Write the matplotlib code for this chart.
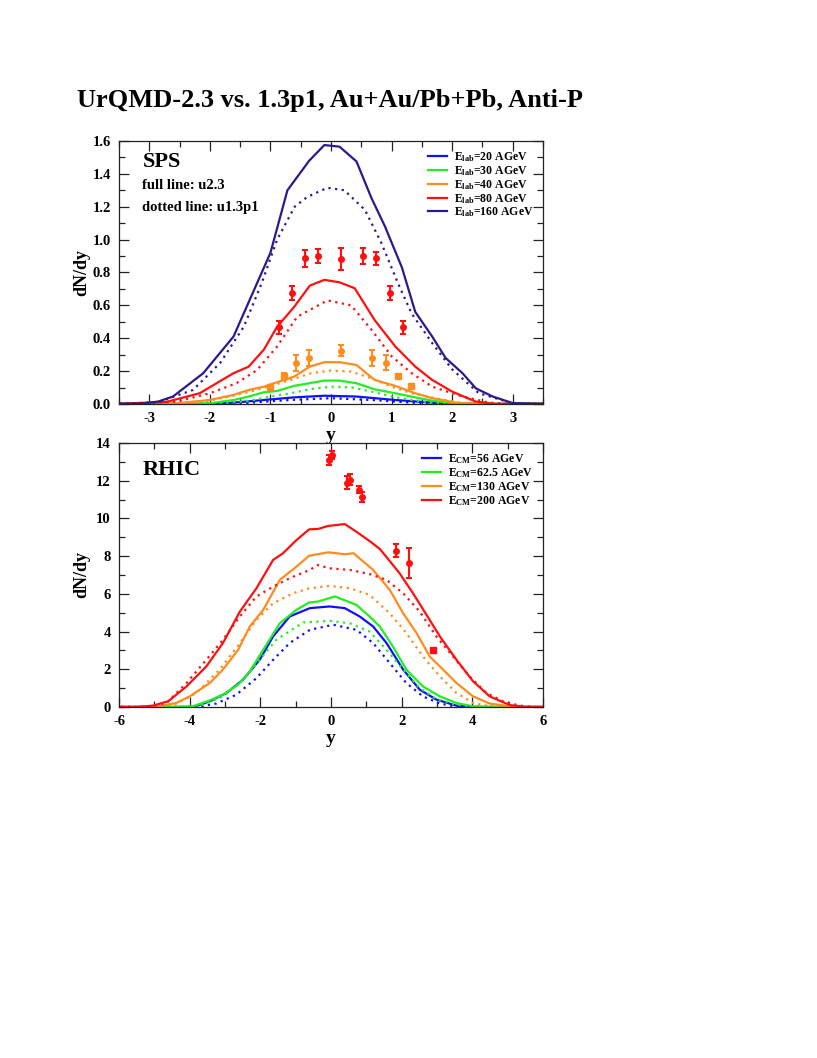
"""Anti-proton rapidity spectra, UrQMD-2.3 vs 1.3p1 (SPS and RHIC)."""

import matplotlib

matplotlib.use("Agg")
import matplotlib.pyplot as plt
from matplotlib.ticker import MultipleLocator, FormatStrFormatter

plt.rcParams["font.family"] = ["Liberation Serif", "DejaVu Serif"]
plt.rcParams["font.weight"] = "bold"
plt.rcParams["mathtext.fontset"] = "custom"
plt.rcParams["mathtext.rm"] = "Liberation Serif:bold"
plt.rcParams["mathtext.it"] = "Liberation Serif:bold"
plt.rcParams["mathtext.bf"] = "Liberation Serif:bold"
plt.rcParams["axes.unicode_minus"] = False

# ---- SPS (top panel): (y, dN/dy) ----
sps_labels = ["E$_{\\rm lab}$=20 AGeV", "E$_{\\rm lab}$=30 AGeV", "E$_{\\rm lab}$=40 AGeV",
              "E$_{\\rm lab}$=80 AGeV", "E$_{\\rm lab}$=160 AGeV"]
sps20_full = [(-3.6, 0), (-2.0, 0), (-1.61, 0.008), (-1.11, 0.024), (-0.61, 0.04), (-0.11, 0.05),
              (0.42, 0.045), (1.06, 0.024), (1.67, 0.008), (2.06, 0), (3.6, 0)]
sps20_dot = [(-3.6, 0), (-1.8, 0), (-1.33, 0.008), (-0.67, 0.024), (0.0, 0.035), (0.67, 0.024),
             (1.33, 0.008), (1.8, 0), (3.6, 0)]
sps30_full = [(-3.6, 0), (-2.0, 0.004), (-1.61, 0.024), (-1.36, 0.045), (-1.11, 0.071), (-0.89, 0.079),
              (-0.61, 0.11), (-0.11, 0.142), (0.14, 0.142), (0.42, 0.126), (0.72, 0.089), (1.06, 0.065),
              (1.39, 0.04), (1.67, 0.02), (2.06, 0.002), (3.6, 0)]
sps30_dot = [(-3.6, 0), (-2.0, 0.002), (-1.67, 0.008), (-1.33, 0.02), (-1.0, 0.045), (-0.67, 0.065),
             (-0.33, 0.091), (0.0, 0.105), (0.33, 0.101), (0.67, 0.075), (1.0, 0.045), (1.33, 0.024),
             (1.67, 0.008), (2.1, 0), (3.6, 0)]
sps40_full = [(-3.6, 0), (-2.56, 0.004), (-2.0, 0.024), (-1.61, 0.055), (-1.36, 0.085), (-1.11, 0.105),
              (-0.89, 0.132), (-0.61, 0.166), (-0.35, 0.227), (-0.11, 0.254), (0.14, 0.254), (0.42, 0.237),
              (0.72, 0.146), (1.06, 0.11), (1.39, 0.065), (1.67, 0.035), (2.06, 0.008), (2.5, 0), (3.6, 0)]
sps40_dot = [(-3.6, 0), (-2.11, 0.014), (-1.67, 0.045), (-1.33, 0.075), (-1.0, 0.11), (-0.67, 0.146),
             (-0.33, 0.187), (0.0, 0.203), (0.33, 0.197), (0.67, 0.156), (1.0, 0.105), (1.33, 0.065),
             (1.67, 0.039), (2.11, 0.008), (2.6, 0), (3.6, 0)]
sps80_full = [(-3.6, 0), (-2.72, 0.012), (-2.17, 0.065), (-1.61, 0.187), (-1.36, 0.227), (-1.11, 0.33),
              (-0.89, 0.47), (-0.61, 0.59), (-0.35, 0.72), (-0.11, 0.755), (0.14, 0.74), (0.39, 0.704),
              (0.72, 0.51), (1.06, 0.35), (1.39, 0.227), (1.67, 0.146), (2.0, 0.075), (2.39, 0.014),
              (2.7, 0), (3.6, 0)]
sps80_dot = [(-3.6, 0), (-2.56, 0.014), (-2.0, 0.065), (-1.56, 0.126), (-1.22, 0.207), (-0.89, 0.35),
             (-0.56, 0.53), (-0.06, 0.63), (0.33, 0.60), (0.67, 0.45), (1.0, 0.29), (1.33, 0.187),
             (1.67, 0.105), (2.17, 0.045), (2.61, 0.008), (3.0, 0), (3.6, 0)]
sps160_full = [(-3.6, 0), (-3.1, 0.003), (-2.85, 0.015), (-2.61, 0.045), (-2.11, 0.187), (-1.61, 0.41),
               (-1.0, 0.92), (-0.72, 1.30), (-0.36, 1.48), (-0.11, 1.575), (0.14, 1.565), (0.42, 1.475),
               (0.67, 1.25), (0.89, 1.08), (1.17, 0.83), (1.39, 0.56), (1.67, 0.41), (1.89, 0.28),
               (2.17, 0.187), (2.39, 0.095), (2.67, 0.045), (3.0, 0.005), (3.6, 0)]
sps160_dot = [(-3.6, 0), (-3.1, 0.004), (-2.83, 0.014), (-2.28, 0.085), (-1.83, 0.25), (-1.44, 0.47),
              (-1.15, 0.73), (-0.89, 1.0), (-0.6, 1.2), (-0.39, 1.26), (-0.06, 1.315), (0.22, 1.30),
              (0.56, 1.18), (0.83, 0.98), (1.11, 0.73), (1.33, 0.55), (1.67, 0.37), (2.0, 0.21),
              (2.44, 0.065), (3.0, 0.004), (3.6, 0)]

# NA49 data points (y, dN/dy, error)
sps80_data = [(-0.86, 0.467, 0.04), (-0.64, 0.675, 0.043), (-0.43, 0.886, 0.05), (-0.21, 0.90, 0.043),
              (0.16, 0.88, 0.068), (0.53, 0.90, 0.047), (0.75, 0.886, 0.04), (0.97, 0.675, 0.043),
              (1.18, 0.467, 0.04)]
sps40_data = [(-0.58, 0.25, 0.05), (-0.36, 0.28, 0.048), (0.16, 0.325, 0.033), (0.68, 0.28, 0.048),
              (0.90, 0.25, 0.046)]
sps40_sq = [(-1.0, 0.105, 0.0), (-0.78, 0.168, 0.02), (1.11, 0.168, 0.0), (1.32, 0.107, 0.0)]

# ---- RHIC (bottom panel) ----
rhic_labels = ["E$_{\\rm CM}$=56 AGeV", "E$_{\\rm CM}$=62.5 AGeV", "E$_{\\rm CM}$=130 AGeV",
               "E$_{\\rm CM}$=200 AGeV"]
rhic56_full = [(-6.5, 0), (-3.9, 0), (-3.43, 0.3), (-2.96, 0.74), (-2.49, 1.45), (-2.02, 2.5),
               (-1.64, 3.74), (-1.17, 4.8), (-0.6, 5.24), (-0.04, 5.33), (0.39, 5.24), (0.81, 4.8),
               (1.19, 4.27), (1.57, 3.39), (2.04, 1.98), (2.51, 0.92), (2.98, 0.39), (3.55, 0.07),
               (4.0, 0), (6.5, 0)]
rhic56_dot = [(-6.5, 0), (-3.8, 0), (-3.25, 0.18), (-2.68, 0.65), (-2.11, 1.53), (-1.64, 2.5),
              (-1.17, 3.39), (-0.6, 4.09), (0.06, 4.36), (0.72, 4.09), (1.19, 3.39), (1.66, 2.33),
              (2.13, 1.27), (2.6, 0.56), (3.08, 0.18), (3.6, 0), (6.5, 0)]
rhic62_full = [(-6.5, 0), (-4.4, 0), (-3.91, 0.035), (-3.43, 0.35), (-3.06, 0.65), (-2.63, 1.18),
               (-2.3, 1.89), (-1.92, 3.03), (-1.45, 4.44), (-0.98, 5.15), (-0.62, 5.54), (-0.37, 5.59),
               (0.11, 5.86), (0.72, 5.41), (1.09, 4.8), (1.38, 4.27), (1.75, 3.21), (2.13, 1.98),
               (2.6, 1.09), (3.08, 0.56), (3.55, 0.21), (4.02, 0.035), (4.5, 0), (6.5, 0)]
rhic62_dot = [(-6.5, 0), (-4.2, 0), (-3.62, 0.12), (-3.06, 0.56), (-2.49, 1.45), (-2.02, 2.5),
              (-1.55, 3.56), (-0.79, 4.48), (-0.04, 4.57), (0.53, 4.44), (1.09, 4.0), (1.57, 3.03),
              (2.04, 1.98), (2.51, 1.0), (2.98, 0.42), (3.55, 0.12), (4.1, 0), (6.5, 0)]
rhic130_full = [(-6.5, 0), (-5.3, 0), (-4.85, 0.035), (-4.38, 0.21), (-4.0, 0.56), (-3.43, 1.27),
                (-3.06, 1.98), (-2.63, 3.03), (-2.3, 4.27), (-1.92, 5.15), (-1.45, 6.74), (-0.98, 7.44),
                (-0.62, 8.02), (-0.08, 8.2), (0.39, 8.1), (0.64, 8.15), (1.19, 7.27), (1.66, 6.21),
                (2.04, 4.97), (2.42, 3.92), (2.79, 2.68), (3.17, 1.98), (3.55, 1.27), (4.02, 0.56),
                (4.49, 0.18), (5.06, 0.035), (5.5, 0), (6.5, 0)]
rhic130_dot = [(-6.5, 0), (-4.9, 0), (-4.38, 0.18), (-3.81, 0.74), (-3.15, 1.98), (-2.58, 3.39),
               (-2.11, 4.62), (-1.64, 5.5), (-1.08, 6.03), (-0.6, 6.3), (-0.04, 6.42), (0.53, 6.3),
               (1.09, 5.94), (1.66, 4.97), (2.13, 3.92), (2.6, 2.68), (3.08, 1.62), (3.55, 0.74),
               (4.02, 0.21), (4.5, 0.03), (5.0, 0), (6.5, 0)]
rhic200_full = [(-6.5, 0), (-5.5, 0), (-5.04, 0.07), (-4.61, 0.3), (-4.09, 1.09), (-3.53, 2.15),
                (-3.06, 3.39), (-2.58, 5.06), (-2.11, 6.3), (-1.64, 7.8), (-1.36, 8.15), (-0.98, 8.85),
                (-0.62, 9.42), (-0.37, 9.44), (-0.08, 9.6), (0.39, 9.7), (0.72, 9.29), (1.09, 8.8),
                (1.38, 8.38), (1.66, 7.74), (1.94, 7.09), (2.32, 6.03), (2.7, 4.89), (3.08, 3.74),
                (3.55, 2.5), (4.02, 1.36), (4.49, 0.56), (5.06, 0.1), (5.5, 0), (6.5, 0)]
rhic200_dot = [(-6.5, 0), (-5.2, 0), (-4.66, 0.2), (-4.09, 1.27), (-3.53, 2.5), (-3.06, 3.56),
               (-2.58, 4.8), (-2.11, 5.86), (-1.64, 6.38), (-1.17, 6.83), (-0.6, 7.27), (-0.37, 7.53),
               (-0.04, 7.35), (0.53, 7.27), (1.09, 7.05), (1.57, 6.74), (2.04, 6.03), (2.51, 5.06),
               (2.98, 3.74), (3.45, 2.68), (3.92, 1.62), (4.4, 0.74), (4.87, 0.3), (5.34, 0.07),
               (5.8, 0), (6.5, 0)]

# BRAHMS data (y, dN/dy, error)
rhic200_data = [(-0.07, 13.09, 0.26), (0.04, 13.35, 0.2), (0.45, 11.9, 0.35), (0.53, 12.06, 0.3),
                (0.79, 11.53, 0.2), (0.89, 11.15, 0.26), (1.83, 8.29, 0.35), (2.2, 7.65, 0.8)]
rhic200_sq = [(2.89, 3.03, 0.0)]

colors_sps = ["#1010ff", "#22ee22", "#ff8c1e", "#ff1010", "#2c1a8c"]
colors_rhic = ["#1010ff", "#22ee22", "#ff8c1e", "#ff1010"]


def _xy(pairs):
    return [p[0] for p in pairs], [p[1] for p in pairs]


def _draw_curves(ax, full, dot, colors, labels):
    for f, d, c, lab in zip(full, dot, colors, labels):
        x, y = _xy(f)
        ax.plot(x, y, color=c, lw=1.6, label=lab)
        x, y = _xy(d)
        ax.plot(x, y, color=c, lw=1.6, ls=(0, (1, 2)))


def _draw_points(ax, pts, color, marker, ms):
    x = [p[0] for p in pts]
    y = [p[1] for p in pts]
    e = [p[2] for p in pts]
    ax.errorbar(x, y, yerr=e, fmt=marker, color=color, ms=ms, elinewidth=1.5,
                capsize=2.5, capthick=1.5, zorder=5)


def _style(ax):
    ax.tick_params(which="both", direction="in", top=True, right=True, labelsize=10.5,
                   pad=6, colors="#222222", labelcolor="black")
    ax.tick_params(which="major", length=7, width=0.9)
    ax.tick_params(which="minor", length=4, width=0.9)
    for s in ax.spines.values():
        s.set_linewidth(0.9)
        s.set_color("#222222")
    for lab in ax.get_xticklabels() + ax.get_yticklabels():
        lab.set_fontweight("bold")


def _legend(ax):
    ax.legend(loc="upper right", frameon=False, fontsize=8.5, handlelength=1.6,
              handletextpad=0.6, labelspacing=0.0, borderaxespad=0.5, borderpad=0.3)


fig = plt.figure(figsize=(8.17, 10.58), dpi=100)
fig.text(0.094, 0.899, "UrQMD-2.3 vs. 1.3p1, Au+Au/Pb+Pb, Anti-P", fontsize=19,
         fontweight="bold", ha="left", va="baseline")

# top panel
ax1 = fig.add_axes([0.1457, 0.6182, 0.519, 0.2486])
_draw_curves(ax1, [sps20_full, sps30_full, sps40_full, sps80_full, sps160_full],
             [sps20_dot, sps30_dot, sps40_dot, sps80_dot, sps160_dot], colors_sps, sps_labels)
_draw_points(ax1, sps80_data, "#ff1010", "o", 4)
_draw_points(ax1, sps40_data, "#ff8c1e", "o", 4)
_draw_points(ax1, sps40_sq, "#ff8c1e", "s", 5)
ax1.set_xlim(-3.5, 3.5)
ax1.set_ylim(0, 1.6)
ax1.xaxis.set_major_locator(MultipleLocator(1))
ax1.xaxis.set_minor_locator(MultipleLocator(0.5))
ax1.yaxis.set_major_locator(MultipleLocator(0.2))
ax1.yaxis.set_minor_locator(MultipleLocator(0.1))
ax1.yaxis.set_major_formatter(FormatStrFormatter("%.1f"))
_style(ax1)
ax1.set_xlabel("y", fontsize=14, fontweight="bold", labelpad=1.5)
ax1.set_ylabel("dN/dy", fontsize=13, fontweight="bold")
ax1.yaxis.set_label_coords(-0.068, 0.5)
ax1.text(0.055, 0.9, "SPS", transform=ax1.transAxes, fontsize=16, fontweight="bold", va="baseline")
ax1.text(0.055, 0.818, "full line: u2.3", transform=ax1.transAxes, fontsize=10.5,
         fontweight="bold", va="baseline")
ax1.text(0.055, 0.735, "dotted line: u1.3p1", transform=ax1.transAxes, fontsize=10.5,
         fontweight="bold", va="baseline")
_legend(ax1)

# bottom panel
ax2 = fig.add_axes([0.1457, 0.3318, 0.519, 0.2495])
_draw_curves(ax2, [rhic56_full, rhic62_full, rhic130_full, rhic200_full],
             [rhic56_dot, rhic62_dot, rhic130_dot, rhic200_dot], colors_rhic, rhic_labels)
_draw_points(ax2, rhic200_data, "#ff1010", "o", 4)
_draw_points(ax2, rhic200_sq, "#ff1010", "s", 5)
ax2.set_xlim(-6, 6)
ax2.set_ylim(0, 14)
ax2.xaxis.set_major_locator(MultipleLocator(2))
ax2.xaxis.set_minor_locator(MultipleLocator(1))
ax2.yaxis.set_major_locator(MultipleLocator(2))
ax2.yaxis.set_minor_locator(MultipleLocator(1))
_style(ax2)
ax2.set_xlabel("y", fontsize=14, fontweight="bold", labelpad=1.5)
ax2.set_ylabel("dN/dy", fontsize=13, fontweight="bold")
ax2.yaxis.set_label_coords(-0.068, 0.5)
ax2.text(0.055, 0.88, "RHIC", transform=ax2.transAxes, fontsize=16, fontweight="bold", va="baseline")
_legend(ax2)

fig.savefig("out.png", dpi=100)
